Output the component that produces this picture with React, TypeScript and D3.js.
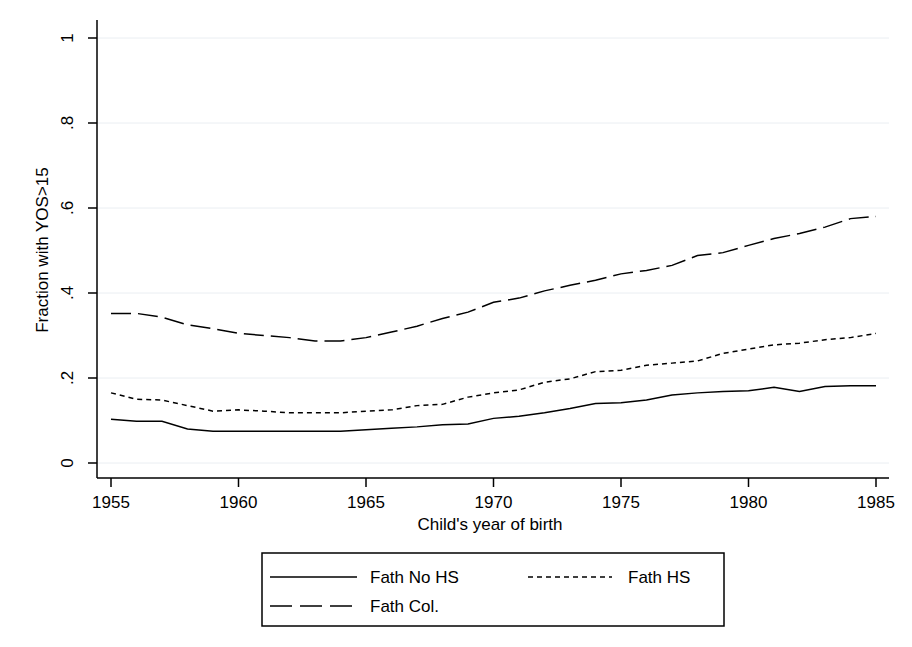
import React from "react";
import * as d3 from "d3";

const years = d3.range(1955, 1986);
const col = [.352,.352,.343,.325,.316,.305,.300,.295,.287,.287,.295,.308,.322,.340,.355,.378,.388,.405,.418,.430,.445,.453,.465,.488,.495,.512,.528,.540,.555,.575,.580];
const hs = [.165,.150,.148,.135,.122,.125,.122,.118,.118,.118,.122,.125,.135,.138,.155,.165,.172,.190,.198,.215,.218,.230,.235,.240,.258,.268,.278,.282,.290,.295,.305];
const nohs = [.103,.098,.098,.080,.075,.075,.075,.075,.075,.075,.078,.082,.085,.090,.092,.105,.110,.118,.128,.140,.142,.148,.160,.165,.168,.170,.178,.168,.180,.182,.182];
const yTicks = [0, .2, .4, .6, .8, 1];
const yLabels = ["0", ".2", ".4", ".6", ".8", "1"];
const xTicks = [1955, 1960, 1965, 1970, 1975, 1980, 1985];

export default function App() {
  const x = d3.scaleLinear().domain([1955, 1985]).range([111, 876]);
  const y = d3.scaleLinear().domain([0, 1]).range([463, 38]);
  const line = (v: number[]) => d3.line<number>().x((_, i) => x(years[i])).y(d => y(d))(v) || "";
  const f = "Liberation Sans, Arial, sans-serif";
  return (
    <svg width={912} height={647} style={{ position: "absolute", left: 0, top: 0, background: "#fff" }} fontFamily={f}>
      <rect x={0} y={0} width={912} height={647} fill="#fff" />
      {yTicks.map(t => <line key={t} x1={97} x2={889} y1={y(t)} y2={y(t)} stroke="#eaeef2" strokeWidth={1} />)}
      <line x1={97} x2={97} y1={20} y2={478} stroke="#000" strokeWidth={1.5} />
      <line x1={97} x2={889} y1={478} y2={478} stroke="#000" strokeWidth={1.5} />
      {yTicks.map((t, i) => (
        <g key={t}>
          <line x1={88} x2={97} y1={y(t)} y2={y(t)} stroke="#000" strokeWidth={1.5} />
          <text transform={`translate(73,${y(t)}) rotate(-90)`} textAnchor="middle" fontSize={17}>{yLabels[i]}</text>
        </g>
      ))}
      {xTicks.map(t => (
        <g key={t}>
          <line x1={x(t)} x2={x(t)} y1={478} y2={487} stroke="#000" strokeWidth={1.5} />
          <text x={x(t)} y={508} textAnchor="middle" fontSize={17}>{t}</text>
        </g>
      ))}
      <text x={490} y={530} textAnchor="middle" fontSize={17}>Child's year of birth</text>
      <text transform="translate(48,250) rotate(-90)" textAnchor="middle" fontSize={17}>Fraction with YOS&gt;15</text>
      <path d={line(nohs)} fill="none" stroke="#000" strokeWidth={1.5} />
      <path d={line(hs)} fill="none" stroke="#000" strokeWidth={1.5} strokeDasharray="5,4" />
      <path d={line(col)} fill="none" stroke="#000" strokeWidth={1.5} strokeDasharray="20,7" />
      <rect x={262} y={553} width={462} height={73} fill="#fff" stroke="#000" strokeWidth={1.5} />
      <line x1={270} x2={357} y1={577} y2={577} stroke="#000" strokeWidth={1.5} />
      <text x={370} y={583} fontSize={17}>Fath No HS</text>
      <line x1={528} x2={612} y1={577} y2={577} stroke="#000" strokeWidth={1.5} strokeDasharray="5,4" />
      <text x={628} y={583} fontSize={17}>Fath HS</text>
      <line x1={270} x2={357} y1={606} y2={606} stroke="#000" strokeWidth={1.5} strokeDasharray="22,8" />
      <text x={370} y={612} fontSize={17}>Fath Col.</text>
    </svg>
  );
}
